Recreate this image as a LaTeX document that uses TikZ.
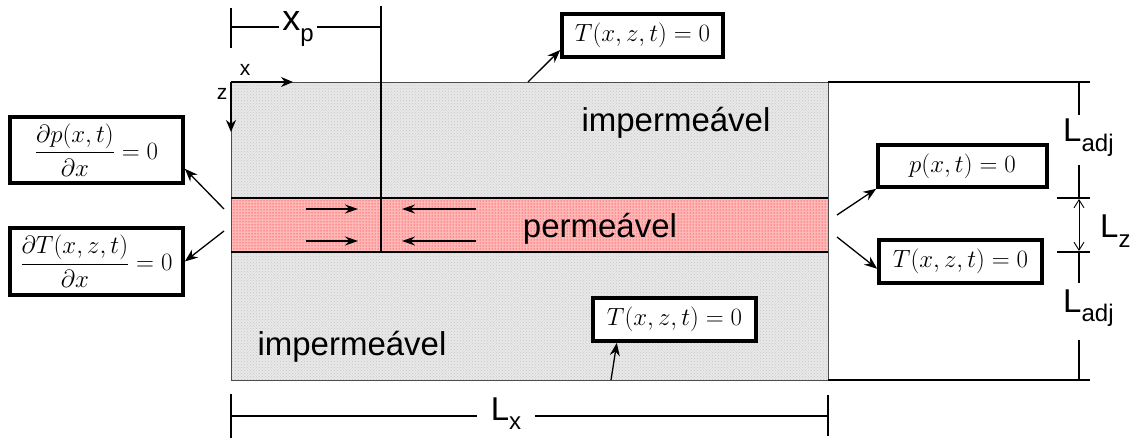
\documentclass[tikz,border=0pt]{standalone}
\usepackage{amsmath}
\usepackage{fontspec}
\setmainfont{Liberation Sans}
\usetikzlibrary{arrows.meta,patterns}

\newcommand{\lsub}[1]{\raisebox{-0.28em}{\fontsize{24}{28}\selectfont #1}}

\tikzset{
  cond/.style={draw, line width=3.6pt, fill=white, inner sep=0pt, font=\fontsize{23}{27}\selectfont},
  bcarrow/.style={-{Stealth[length=13pt,width=10pt]}, line width=1.3pt},
  flux/.style={-{Stealth[length=13pt,width=9pt]}, line width=1.3pt},
  dimline/.style={line width=2.2pt},
  lbl/.style={font=\fontsize{33}{39}\selectfont, inner sep=0pt},
}

\begin{document}
\begin{tikzpicture}[x=1pt, y=-1pt]
  \useasboundingbox (0,0) rectangle (1134,438);

  % Layers
  \fill[gray!18] (231,82) rectangle (828,380);
  \fill[pattern=crosshatch dots, pattern color=gray!45] (231,82) rectangle (828,380);
  \fill[red!28] (231,198) rectangle (828,252);
  \fill[pattern=dots, pattern color=red] (231,198) rectangle (828,252);
  \draw[gray!60!black, line width=0.9pt] (231,82) rectangle (828,380);
  \draw[line width=1.5pt] (231,198) -- (828,198) (231,252) -- (828,252);

  % Axes
  \draw[-{Stealth[length=12pt,width=10pt]}, line width=1.2pt] (231,82) -- (293,82);
  \draw[-{Stealth[length=12pt,width=10pt]}, line width=1.2pt] (231,82) -- (231,132);
  \node[font=\fontsize{21}{25}\selectfont] (xax) at (245,70) {x};
  \node[font=\fontsize{21}{25}\selectfont] (zax) at (222,94) {z};

  % Well position
  \draw[line width=2pt] (381,6) -- (381,252);
  \node[lbl, font=\fontsize{36}{42}\selectfont, inner xsep=3pt] (xp) at (298,29) {x\lsub{p}};
  \draw[dimline] (231,8) -- (231,48);
  \draw[dimline] (231,27) -- (xp.west |- 0,27);
  \draw[dimline] (xp.east |- 0,27) -- (381,27);

  % Flow in the permeable layer
  \draw[flux] (306,209) -- (358,209);
  \draw[flux] (306,241) -- (358,241);
  \draw[flux] (476,209) -- (402,209);
  \draw[flux] (476,241) -- (402,241);

  % Layer names
  \node[lbl, anchor=base] (impT) at (676,132) {impermeável};
  \node[lbl, anchor=base] (perm) at (600,237) {permeável};
  \node[lbl, anchor=base] (impB) at (352,355) {impermeável};

  % Boundary conditions
  \node[cond, minimum width=173pt, minimum height=66pt] (dpL) at (96.5,150)
    {$\dfrac{\partial p(x,t)}{\partial x}=0$};
  \node[cond, minimum width=173pt, minimum height=67pt] (dTL) at (96.5,261.5)
    {$\dfrac{\partial T(x,z,t)}{\partial x}=0$};
  \node[cond, minimum width=161pt, minimum height=43pt] (Ttop) at (642.5,35.5) {$T(x,z,t)=0$};
  \node[cond, minimum width=169pt, minimum height=42pt] (pR) at (962.5,166) {$p(x,t)=0$};
  \node[cond, minimum width=163pt, minimum height=43pt] (TR) at (960.5,261.5) {$T(x,z,t)=0$};
  \node[cond, minimum width=163pt, minimum height=43pt] (Tbot) at (674.5,319.5) {$T(x,z,t)=0$};

  \coordinate (sL1) at (224,209);
  \coordinate (sL2) at (224,231);
  \coordinate (sTop) at (528,82);
  \coordinate (sR1) at (837,215);
  \coordinate (sR2) at (837,237);
  \coordinate (sBot) at (611,380);
  \draw[bcarrow] (sL1) -- (dpL.348);
  \draw[bcarrow] (sL2) -- (dTL.east);
  \draw[bcarrow] (sTop) -- (Ttop.190);
  \draw[bcarrow] (sR1) -- (pR.south west);
  \draw[bcarrow] (sR2) -- (TR.185);
  \draw[bcarrow] (sBot) -- (Tbot.202);

  % Lengths on the right
  \draw[dimline] (828,82) -- (1090,82);
  \draw[dimline] (828,380) -- (1090,380);
  \draw[dimline] (1057,198) -- (1090,198);
  \draw[dimline] (1057,252) -- (1090,252);
  \draw[dimline] (1079,82) -- (1079,115);
  \draw[dimline] (1079,165) -- (1079,198);
  \draw[dimline] (1079,252) -- (1079,283);
  \draw[dimline] (1079,340) -- (1079,380);
  \draw[{Straight Barb[length=8pt,width=10pt]}-{Straight Barb[length=8pt,width=10pt]}, line width=0.9pt]
    (1079,199) -- (1079,251);
  \node[lbl, anchor=base west] (LadjT) at (1063,142) {L\lsub{adj}};
  \node[lbl, anchor=base west] (LadjB) at (1063,312) {L\lsub{adj}};
  \node[lbl, anchor=base west] (Lz) at (1100,238) {L\lsub{z}};

  % Length of the domain
  \node[lbl, inner xsep=14pt] (Lx) at (506,414) {L\lsub{x}};
  \draw[dimline] (231,394) -- (231,438);
  \draw[dimline] (828,395) -- (828,436);
  \draw[dimline] (231,416) -- (Lx.west |- 0,416);
  \draw[dimline] (Lx.east |- 0,416) -- (828,416);
\end{tikzpicture}
\end{document}
